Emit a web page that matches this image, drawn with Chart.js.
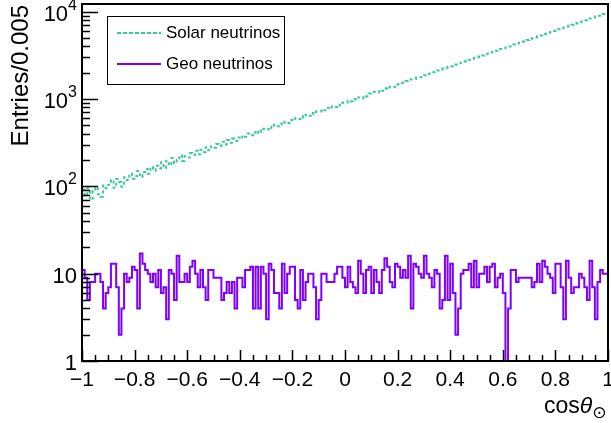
<!DOCTYPE html>
<html>
<head>
<meta charset="utf-8">
<script src="https://cdn.jsdelivr.net/npm/chart.js@4.4.1/dist/chart.umd.min.js"></script>
<style>
  body { margin: 0; background: #fff; }
  canvas { display: block; }
</style>
</head>
<body>
<canvas id="histChart" width="611" height="423"></canvas>
<script>
// histogram binning (cos theta_sun, 200 bins from -1 to 1)
const binStart = -1;
const binWidth = 0.01;

// entries per bin
const solarCounts = [
  92, 78, 95, 70, 88, 98, 81, 76, 102, 95,
  104, 118, 96, 121, 112, 99, 127, 118, 140, 122,
  131, 150, 128, 146, 158, 139, 166, 151, 172, 160,
  188, 162, 196, 174, 210, 183, 198, 226, 195, 221,
  214, 240, 228, 255, 233, 262, 246, 280, 258, 286,
  276, 305, 290, 324, 301, 338, 315, 352, 330, 362,
  351, 382, 370, 402, 383, 416, 398, 438, 420, 456,
  446, 480, 466, 505, 488, 522, 508, 546, 530, 575,
  565, 602, 590, 632, 612, 660, 641, 690, 672, 720,
  718, 758, 742, 790, 772, 822, 806, 858, 842, 910,
  908, 958, 940, 995, 978, 1040, 1020, 1085, 1068, 1150,
  1155, 1205, 1188, 1262, 1240, 1320, 1298, 1380, 1362, 1455,
  1470, 1525, 1540, 1600, 1605, 1680, 1685, 1755, 1770, 1840,
  1868, 1930, 1955, 2025, 2050, 2118, 2150, 2222, 2252, 2330,
  2362, 2440, 2482, 2558, 2600, 2680, 2730, 2810, 2860, 2950,
  3000, 3090, 3145, 3240, 3298, 3395, 3458, 3560, 3625, 3735,
  3808, 3915, 3990, 4105, 4182, 4302, 4388, 4510, 4598, 4730,
  4828, 4960, 5060, 5200, 5302, 5450, 5560, 5712, 5830, 5990,
  6118, 6282, 6412, 6585, 6722, 6904, 7050, 7236, 7392, 7588,
  7752, 7958, 8130, 8342, 8524, 8748, 8938, 9170, 9372, 9615
];

const geoCounts = [
  11, 9, 5, 8, 8, 10, 10, 8, 4, 6, 7, 13, 13, 7, 2, 4, 10, 8, 9, 12,
  11, 4, 17, 13, 11, 10, 8, 10, 7, 11, 6, 7, 3, 11,
  10, 5, 16, 8, 8, 10, 8, 12, 14, 10, 7, 11, 7, 5, 11, 11, 9, 9, 9, 5,
  6, 8, 6, 8, 4, 9, 9, 7, 11, 11, 12, 4,
  12, 4, 12, 10, 3, 13, 11, 6, 6, 4, 13, 6, 10, 12, 12, 5, 4, 11, 5, 8,
  10, 10, 7, 3, 5, 10, 10, 8, 8, 8, 10, 12, 12, 9, 7,
  12, 8, 7, 6, 14, 10, 6, 11, 12, 6, 11, 8, 6, 11, 15, 12, 8, 7, 13, 12,
  9, 11, 9, 16, 4, 13, 12, 10, 9, 16, 10, 9, 7,
  11, 10, 4, 5, 16, 5, 13, 6, 2, 4, 10, 11, 11, 13, 7, 14, 7, 10, 10, 12,
  8, 12, 13, 7, 9, 10, 6, 0, 4, 11, 11, 8, 9,
  9, 9, 9, 9, 7, 8, 13, 8, 14, 12, 10, 9, 6, 13, 13, 7, 3, 14, 9, 6,
  7, 7, 10, 9, 7, 5, 14, 7, 3, 8, 11, 10, 10
];

const xTickValues = [-1, -0.8, -0.6, -0.4, -0.2, 0, 0.2, 0.4, 0.6, 0.8, 1];
const xTickLabels = ["\u22121", "\u22120.8", "\u22120.6", "\u22120.4", "\u22120.2", "0", "0.2", "0.4", "0.6", "0.8", "1"];
const yTickValues = [1, 10, 100, 1000, 10000];
const yTickLabels = [["1", ""], ["10", ""], ["10", "2"], ["10", "3"], ["10", "4"]];
const yMin = 1;
const yMax = 12200;

const FONT = '"Liberation Sans", Arial, Helvetica, sans-serif';
const SOLAR_COLOR = "#38c99c";
const GEO_COLOR = "#7f00ff";

// empty bins are drawn down to the axis floor, like ROOT does on a log axis
function toSteps(counts) {
  const pts = counts.map((c, i) => ({ x: binStart + i * binWidth, y: c > 0 ? c : yMin }));
  pts.push({ x: binStart + counts.length * binWidth, y: pts[pts.length - 1].y });
  return pts;
}

const framePlugin = {
  id: "rootFrame",
  afterDraw(chart) {
    const { ctx, chartArea: a } = chart;
    const xs = chart.scales.x, ys = chart.scales.y;
    ctx.save();

    // frame
    ctx.strokeStyle = "#000";
    ctx.lineWidth = 2;
    ctx.strokeRect(a.left, a.top, a.right - a.left, a.bottom - a.top);

    // x ticks, inward
    ctx.lineWidth = 1.5;
    ctx.beginPath();
    for (let k = 0; k <= 40; k++) {
      const px = Math.round(xs.getPixelForValue(-1 + k * 0.05)) + 0.5;
      const len = k % 4 === 0 ? 11 : 6;
      ctx.moveTo(px, a.bottom);
      ctx.lineTo(px, a.bottom - len);
    }
    // y ticks, inward
    for (let d = 0; d <= 4; d++) {
      for (let m = 1; m <= 9; m++) {
        const v = m * Math.pow(10, d);
        if (v > yMax) break;
        const py = Math.round(ys.getPixelForValue(v)) + 0.5;
        const len = m === 1 ? 16 : 8;
        ctx.moveTo(a.left, py);
        ctx.lineTo(a.left + len, py);
      }
    }
    ctx.stroke();

    // x tick labels
    ctx.fillStyle = "#000";
    ctx.font = "21px " + FONT;
    ctx.textAlign = "center";
    ctx.textBaseline = "alphabetic";
    xTickValues.forEach((v, i) => {
      ctx.fillText(xTickLabels[i], xs.getPixelForValue(v), 386);
    });

    // y tick labels with exponents
    const rightEdge = 77;
    yTickValues.forEach((v, i) => {
      const [base, exp] = yTickLabels[i];
      const py = ys.getPixelForValue(v);
      ctx.font = "16px " + FONT;
      const ew = exp ? ctx.measureText(exp).width : 0;
      ctx.textAlign = "left";
      if (exp) ctx.fillText(exp, rightEdge - ew, py - 2);
      ctx.font = "22px " + FONT;
      ctx.textAlign = "right";
      ctx.fillText(base, rightEdge - ew, py + 9);
    });

    // y axis title
    ctx.save();
    ctx.translate(28, 5);
    ctx.rotate(-Math.PI / 2);
    ctx.font = "24px " + FONT;
    ctx.textAlign = "right";
    ctx.fillText("Entries/0.005", 0, 0);
    ctx.restore();

    // x axis title: cos theta_sun
    ctx.textAlign = "left";
    ctx.font = "23px " + FONT;
    let tx = 544;
    const ty = 413;
    ctx.fillText("cos", tx, ty);
    tx += ctx.measureText("cos").width;
    ctx.font = "italic 23px " + FONT;
    ctx.fillText("\u03b8", tx, ty);
    tx += ctx.measureText("\u03b8").width;
    ctx.font = "17px \"DejaVu Sans\", sans-serif";
    ctx.fillText("\u2299", tx, ty + 5);

    // legend
    const lx = 107, ly = 16, lw = 177, lh = 68;
    ctx.fillStyle = "#fff";
    ctx.fillRect(lx, ly, lw, lh);
    ctx.strokeStyle = "#000";
    ctx.lineWidth = 1;
    ctx.strokeRect(lx + 0.5, ly + 0.5, lw, lh);

    ctx.lineWidth = 2;
    ctx.strokeStyle = SOLAR_COLOR;
    ctx.setLineDash([4, 2]);
    ctx.beginPath();
    ctx.moveTo(117, 33);
    ctx.lineTo(161, 33);
    ctx.stroke();
    ctx.setLineDash([]);
    ctx.strokeStyle = GEO_COLOR;
    ctx.beginPath();
    ctx.moveTo(117, 64);
    ctx.lineTo(161, 64);
    ctx.stroke();

    ctx.fillStyle = "#000";
    ctx.font = "17px " + FONT;
    ctx.textAlign = "left";
    ctx.textBaseline = "middle";
    ctx.fillText("Solar neutrinos", 166, 33);
    ctx.fillText("Geo neutrinos", 166, 64);

    ctx.restore();
  }
};

const chart = new Chart(document.getElementById("histChart").getContext("2d"), {
  type: "line",
  data: {
    datasets: [
      {
        label: "Solar neutrinos",
        data: toSteps(solarCounts),
        borderColor: SOLAR_COLOR,
        borderWidth: 2,
        borderDash: [3, 3],
        stepped: "before",
        pointRadius: 0,
        fill: false
      },
      {
        label: "Geo neutrinos",
        data: toSteps(geoCounts),
        borderColor: GEO_COLOR,
        borderWidth: 2,
        stepped: "before",
        pointRadius: 0,
        fill: false
      }
    ]
  },
  options: {
    responsive: false,
    animation: false,
    devicePixelRatio: 1,
    layout: { padding: { left: 82, right: 3, top: 4, bottom: 62 } },
    plugins: { legend: { display: false }, tooltip: { enabled: false } },
    scales: {
      x: { type: "linear", min: -1, max: 1, display: false },
      y: { type: "logarithmic", min: yMin, max: yMax, display: false }
    }
  },
  plugins: [framePlugin]
});
</script>
</body>
</html>
